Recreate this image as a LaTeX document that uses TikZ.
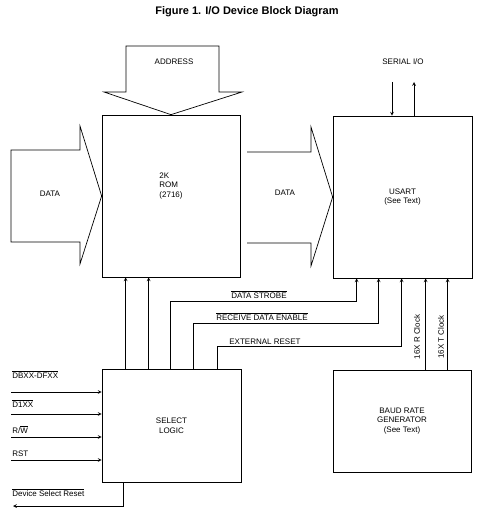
\documentclass[tikz,border=0pt]{standalone}
\usepackage{fontspec}
\setmainfont{Liberation Sans}
\usetikzlibrary{arrows}
\newcommand{\ovl}[1]{$\overline{\mbox{#1}}$}

\begin{document}
\begin{tikzpicture}[x=1pt, y=-1pt, >=stealth, line width=0.7pt,
    block/.style={draw, inner sep=0pt, align=center, font=\fontsize{8}{9.5}\selectfont},
    lbl/.style={inner sep=0pt, font=\fontsize{8}{9.5}\selectfont}]
    \useasboundingbox (0,0) rectangle (485,521);

    \node[font=\fontsize{11}{13}\selectfont\bfseries] (title) at (247,12) {Figure 1. I/O Device Block Diagram};

    % the four blocks
    \node[block, minimum width=138pt, minimum height=162pt,
        label={[lbl, align=left, yshift=10pt]center:2K\\ROM\\(2716)}] (rom) at (171,196) {};
    \node[block, minimum width=139pt, minimum height=162pt] (usart) at (402.5,197) {USART\\(See Text)};
    \node[block, minimum width=139pt, minimum height=113pt] (sel) at (171.5,425.5) {SELECT\\LOGIC};
    \node[block, minimum width=138pt, minimum height=102pt] (baud) at (402,421) {BAUD RATE\\GENERATOR\\(See Text)};

    % bus arrows
    \draw (126,46) -- (219,46) -- (219,92) -- (242,92) -- (rom.north) -- (104,92) -- (126,92) -- cycle;
    \node[lbl] (addr) at (174,62) {ADDRESS};
    \draw (11,150) -- (80,150) -- (80,126) -- (rom.west) -- (80,264) -- (80,242) -- (11,242) -- cycle;
    \node[lbl] (din) at (50,194) {DATA};
    \draw (247,152) -- (311,152) -- (311,127) -- (usart.west) -- (311,266) -- (311,243) -- (247,243);
    \node[lbl] (dmid) at (285,193) {DATA};

    % serial lines
    \node[lbl] (ser) at (403,62) {SERIAL I/O};
    \coordinate (sin) at (392,82);
    \coordinate (sout) at (414,82);
    \draw[->] (sin) -- (sin |- usart.north);
    \draw[->] (sout |- usart.north) -- (sout);

    % select logic to rom and usart
    \draw[->] ([xshift=24pt]sel.north west) -- ([xshift=24pt]rom.south west);
    \draw[->] ([xshift=47pt]sel.north west) -- ([xshift=47pt]rom.south west);
    \draw[->] ([xshift=69pt]sel.north west) -- ++(0,-67) -| ([xshift=24pt]usart.south west);
    \draw[->] ([xshift=92pt]sel.north west) -- ++(0,-45) -| ([xshift=46pt]usart.south west);
    \draw[->] ([xshift=116pt]sel.north west) -- ++(0,-22) -| ([xshift=69pt]usart.south west);
    \node[lbl, anchor=base west] (strb) at (231,298) {\ovl{DATA STROBE}};
    \node[lbl, anchor=base west] (rde) at (216,320) {\ovl{RECEIVE DATA ENABLE}};
    \node[lbl, anchor=base west] (xrst) at (229,344) {EXTERNAL RESET};

    % clocks
    \draw[->] ([xshift=93pt]baud.north west) -- ([xshift=93pt]usart.south west);
    \draw[->] ([xshift=115pt]baud.north west) -- ([xshift=115pt]usart.south west);
    \node[lbl, rotate=90] (rclk) at (417,337) {16X R Clock};
    \node[lbl, rotate=90] (tclk) at (441,337) {16X T Clock};

    % inputs of select logic
    \coordinate (i1) at (11,392);
    \coordinate (i2) at (11,414);
    \coordinate (i3) at (11,437);
    \coordinate (i4) at (11,460);
    \draw[->] (i1) -- (i1 -| sel.west);
    \draw[->] (i2) -- (i2 -| sel.west);
    \draw[->] (i3) -- (i3 -| sel.west);
    \draw[->] (i4) -- (i4 -| sel.west);
    \node[lbl, anchor=base west] (l1) at (12,378) {\ovl{DBXX-DFXX}};
    \node[lbl, anchor=base west] (l2) at (12,407) {\ovl{D1XX}};
    \node[lbl, anchor=base west] (l3) at (12,433) {R/\ovl{W}};
    \node[lbl, anchor=base west] (l4) at (12,456) {RST};

    % reset out
    \coordinate (dsr) at (13,506);
    \draw[->] ([xshift=22pt]sel.south west) |- (dsr);
    \node[lbl, anchor=base west] (l5) at (12,496) {\ovl{Device Select Reset}};
\end{tikzpicture}
\end{document}
